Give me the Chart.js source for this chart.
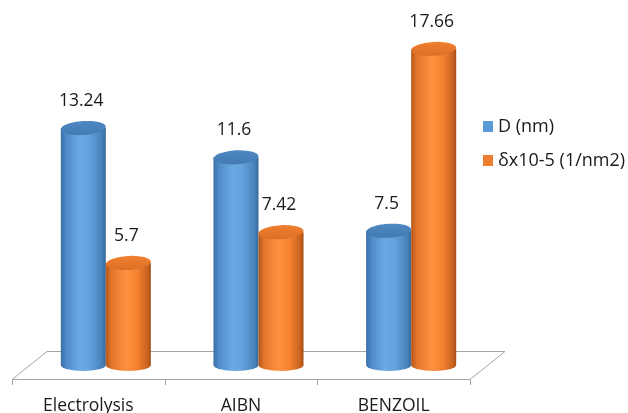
<!DOCTYPE html>
<html>
<head>
<meta charset="utf-8">
<script src="https://cdn.jsdelivr.net/npm/chart.js@4/dist/chart.umd.min.js"></script>
<style>
  html, body { margin: 0; padding: 0; background: #ffffff; }
  canvas { display: block; }
</style>
</head>
<body>
<canvas id="chart" width="628" height="413"></canvas>
<script>
// Categories and series values
const categories = ['Electrolysis', 'AIBN', 'BENZOIL'];
const sizeD = [13.24, 11.6, 7.5];
const densityDelta = [5.7, 7.42, 17.66];
const seriesNames = ['D (nm)', 'δx10-5 (1/nm2)'];

const FONT = '"Open Sans", Lato, sans-serif';
const DEPTH_X = 35, DEPTH_Y = -28;       // floor depth
const BAR_DX = DEPTH_X / 2, BAR_DY = DEPTH_Y / 2;

const palettes = [
  { legend: '#5B9BD5',
    body: [[0, '#3b6fa3'], [0.12, '#4f8bc8'], [0.42, '#6aa9e4'], [0.65, '#63a1dc'], [0.9, '#4a83bc'], [1, '#3a6a9a']],
    top: ['#4f88c2', '#437bb3'] },
  { legend: '#ED7D31',
    body: [[0, '#b2571a'], [0.12, '#e2752a'], [0.45, '#ff9241'], [0.7, '#f4822f'], [0.92, '#c9631f'], [1, '#a5501a']],
    top: ['#f0802f', '#dc6f25'] }
];

function bodyGradient(ctx, x0, x1, stops) {
  const g = ctx.createLinearGradient(x0, 0, x1, 0);
  stops.forEach(s => g.addColorStop(s[0], s[1]));
  return g;
}

const cylinderPlugin = {
  id: 'cylinders',
  afterDatasetsDraw(chart) {
    const ctx = chart.ctx;
    const area = chart.chartArea;
    const xs = chart.scales.x;

    // floor
    ctx.save();
    ctx.strokeStyle = '#a6a6a6';
    ctx.lineWidth = 1;
    ctx.beginPath();
    ctx.moveTo(area.left, area.bottom + 0.5);
    ctx.lineTo(area.right, area.bottom + 0.5);
    ctx.lineTo(area.right + DEPTH_X, area.bottom + DEPTH_Y + 0.5);
    ctx.lineTo(area.left + DEPTH_X, area.bottom + DEPTH_Y + 0.5);
    ctx.closePath();
    ctx.stroke();
    // category ticks
    const n = categories.length;
    const step = (area.right - area.left) / n;
    ctx.beginPath();
    for (let i = 0; i <= n; i++) {
      const tx = Math.round(area.left + step * i) + 0.5;
      ctx.moveTo(tx, area.bottom);
      ctx.lineTo(tx, area.bottom + 6);
    }
    ctx.stroke();
    ctx.restore();

    // cylinders
    chart.data.datasets.forEach((ds, di) => {
      const meta = chart.getDatasetMeta(di);
      const pal = palettes[di];
      meta.data.forEach((el, i) => {
        const cx = el.x + BAR_DX;
        const rx = el.width / 2;
        const ry = 7;
        const top = el.y + BAR_DY;
        const bottom = el.base + BAR_DY;
        ctx.save();
        ctx.fillStyle = bodyGradient(ctx, cx - rx, cx + rx, pal.body);
        ctx.beginPath();
        ctx.moveTo(cx - rx, top);
        ctx.lineTo(cx - rx, bottom);
        ctx.ellipse(cx, bottom, rx, ry - 1, 0, Math.PI, 0, true);
        ctx.lineTo(cx + rx, top);
        ctx.closePath();
        ctx.fill();
        // top cap
        const tg = ctx.createLinearGradient(0, top - ry, 0, top + ry);
        tg.addColorStop(0, pal.top[0]);
        tg.addColorStop(1, pal.top[1]);
        ctx.fillStyle = tg;
        ctx.beginPath();
        ctx.ellipse(cx, top, rx, ry, -0.06, 0, Math.PI * 2);
        ctx.fill();
        ctx.restore();

        // value label
        ctx.save();
        ctx.fillStyle = '#1a1a1a';
        ctx.font = '17.5px ' + FONT;
        ctx.textAlign = 'center';
        ctx.textBaseline = 'alphabetic';
        ctx.fillText(String(ds.data[i]), cx - 2, top - ry - 15);
        ctx.restore();
      });
    });

    // category labels
    ctx.save();
    ctx.fillStyle = '#1a1a1a';
    ctx.font = '17.5px ' + FONT;
    ctx.textAlign = 'center';
    ctx.textBaseline = 'alphabetic';
    categories.forEach((c, i) => {
      ctx.fillText(c, xs.getPixelForValue(i), area.bottom + 32);
    });
    ctx.restore();

    // legend
    ctx.save();
    ctx.font = '18px ' + FONT;
    ctx.textBaseline = 'middle';
    ctx.textAlign = 'left';
    seriesNames.forEach((name, i) => {
      const ly = 127 + i * 34;
      ctx.fillStyle = palettes[i].legend;
      ctx.fillRect(483, ly - 6, 10, 11);
      ctx.fillStyle = '#1a1a1a';
      ctx.fillText(name, 498, ly);
    });
    ctx.restore();
  }
};

new Chart(document.getElementById('chart'), {
  type: 'bar',
  data: {
    labels: categories,
    datasets: [
      { label: seriesNames[0], data: sizeD, backgroundColor: 'rgba(0,0,0,0)', borderWidth: 0 },
      { label: seriesNames[1], data: densityDelta, backgroundColor: 'rgba(0,0,0,0)', borderWidth: 0 }
    ]
  },
  options: {
    responsive: false,
    devicePixelRatio: 1,
    animation: false,
    layout: { padding: { left: 12, right: 158, top: 21, bottom: 34 } },
    datasets: { bar: { categoryPercentage: 0.59, barPercentage: 1 } },
    scales: {
      x: { display: false },
      y: { display: false, min: 0, max: 20 }
    },
    plugins: { legend: { display: false }, tooltip: { enabled: false } }
  },
  plugins: [cylinderPlugin]
});
</script>
</body>
</html>
